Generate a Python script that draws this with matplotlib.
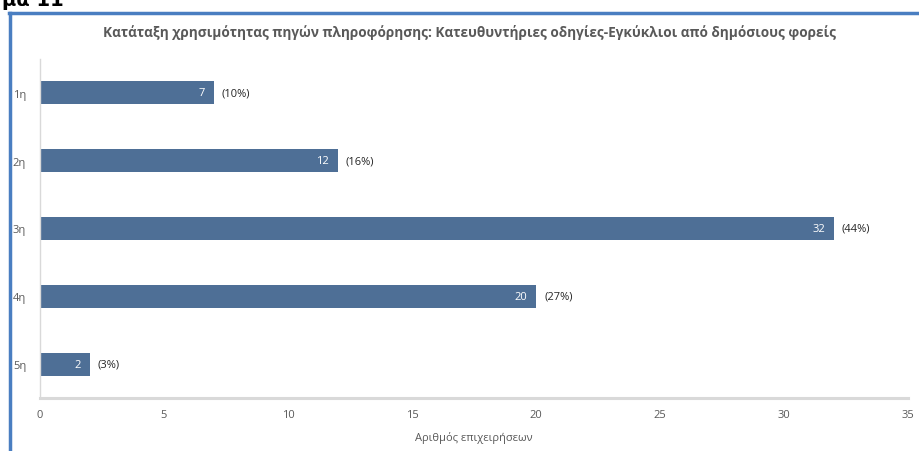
import numpy as np
import matplotlib.pyplot as plt
from matplotlib.lines import Line2D

# ranks and number of businesses per rank
ranks = ['1η', '2η', '3η', '4η', '5η']
counts = [7, 12, 32, 20, 2]
shares = ['(10%)', '(16%)', '(44%)', '(27%)', '(3%)']

plt.rcParams['font.family'] = ['Open Sans', 'DejaVu Sans']

W, H = 919, 452
fig = plt.figure(figsize=(W / 100, H / 100), dpi=100)

# plot area in pixel coordinates
x0, x1 = 40, 908
y0, y1 = 60, 399
ax = fig.add_axes([x0 / W, 1 - y1 / H, (x1 - x0) / W, (y1 - y0) / H])

bar_color = '#4E6F96'
ypos = np.arange(len(ranks))
bars = ax.barh(ypos, counts, height=0.34, color=bar_color)

ax.set_xlim(0, 35)
ax.set_ylim(len(ranks) - 0.5, -0.5)
ax.set_xticks(np.arange(0, 36, 5))
ax.set_yticks(ypos)
ax.set_yticklabels(ranks)

for b, c, s in zip(bars, counts, shares):
    yc = b.get_y() + b.get_height() / 2
    ax.annotate(str(c), xy=(c, yc), xytext=(-6, 0), textcoords='offset points',
                ha='right', va='center', color='white', fontsize=8)
    ax.annotate(s, xy=(c, yc), xytext=(6, 0), textcoords='offset points',
                ha='left', va='center', color='#262626', fontsize=8)

for side in ['top', 'right']:
    ax.spines[side].set_visible(False)
ax.spines['left'].set_color('#D9D9D9')
ax.spines['bottom'].set_color('#D9D9D9')
ax.spines['bottom'].set_linewidth(2.2)
ax.spines['left'].set_linewidth(1)
ax.tick_params(axis='both', length=0, colors='#595959', labelsize=8)
ax.tick_params(axis='x', pad=8)
ax.tick_params(axis='y', pad=10)

ax.set_xlabel('Αριθμός επιχειρήσεων', fontsize=8, color='#595959', labelpad=8)

fig.text(470 / W, 1 - 32 / H,
         'Κατάταξη χρησιμότητας πηγών πληροφόρησης: Κατευθυντήριες οδηγίες-Εγκύκλιοι από δημόσιους φορείς',
         ha='center', va='center', fontsize=9.8, color='#595959', fontweight='bold')

# chart frame edges (left and top)
frame = '#4A7EC1'
fig.add_artist(Line2D([10 / W, 10 / W], [0, 1 - 14 / H], transform=fig.transFigure,
                      color=frame, linewidth=2.5))
fig.add_artist(Line2D([9 / W, 1], [1 - 14 / H, 1 - 14 / H], transform=fig.transFigure,
                      color=frame, linewidth=2.5))

# caption above the frame, mostly cut off at the top
fig.text(2 / W, 1 - 6 / H, 'μα 11', ha='left', va='baseline', fontsize=14,
         fontweight='bold', color='black', family='DejaVu Sans')

fig.savefig('out.png', dpi=100)
